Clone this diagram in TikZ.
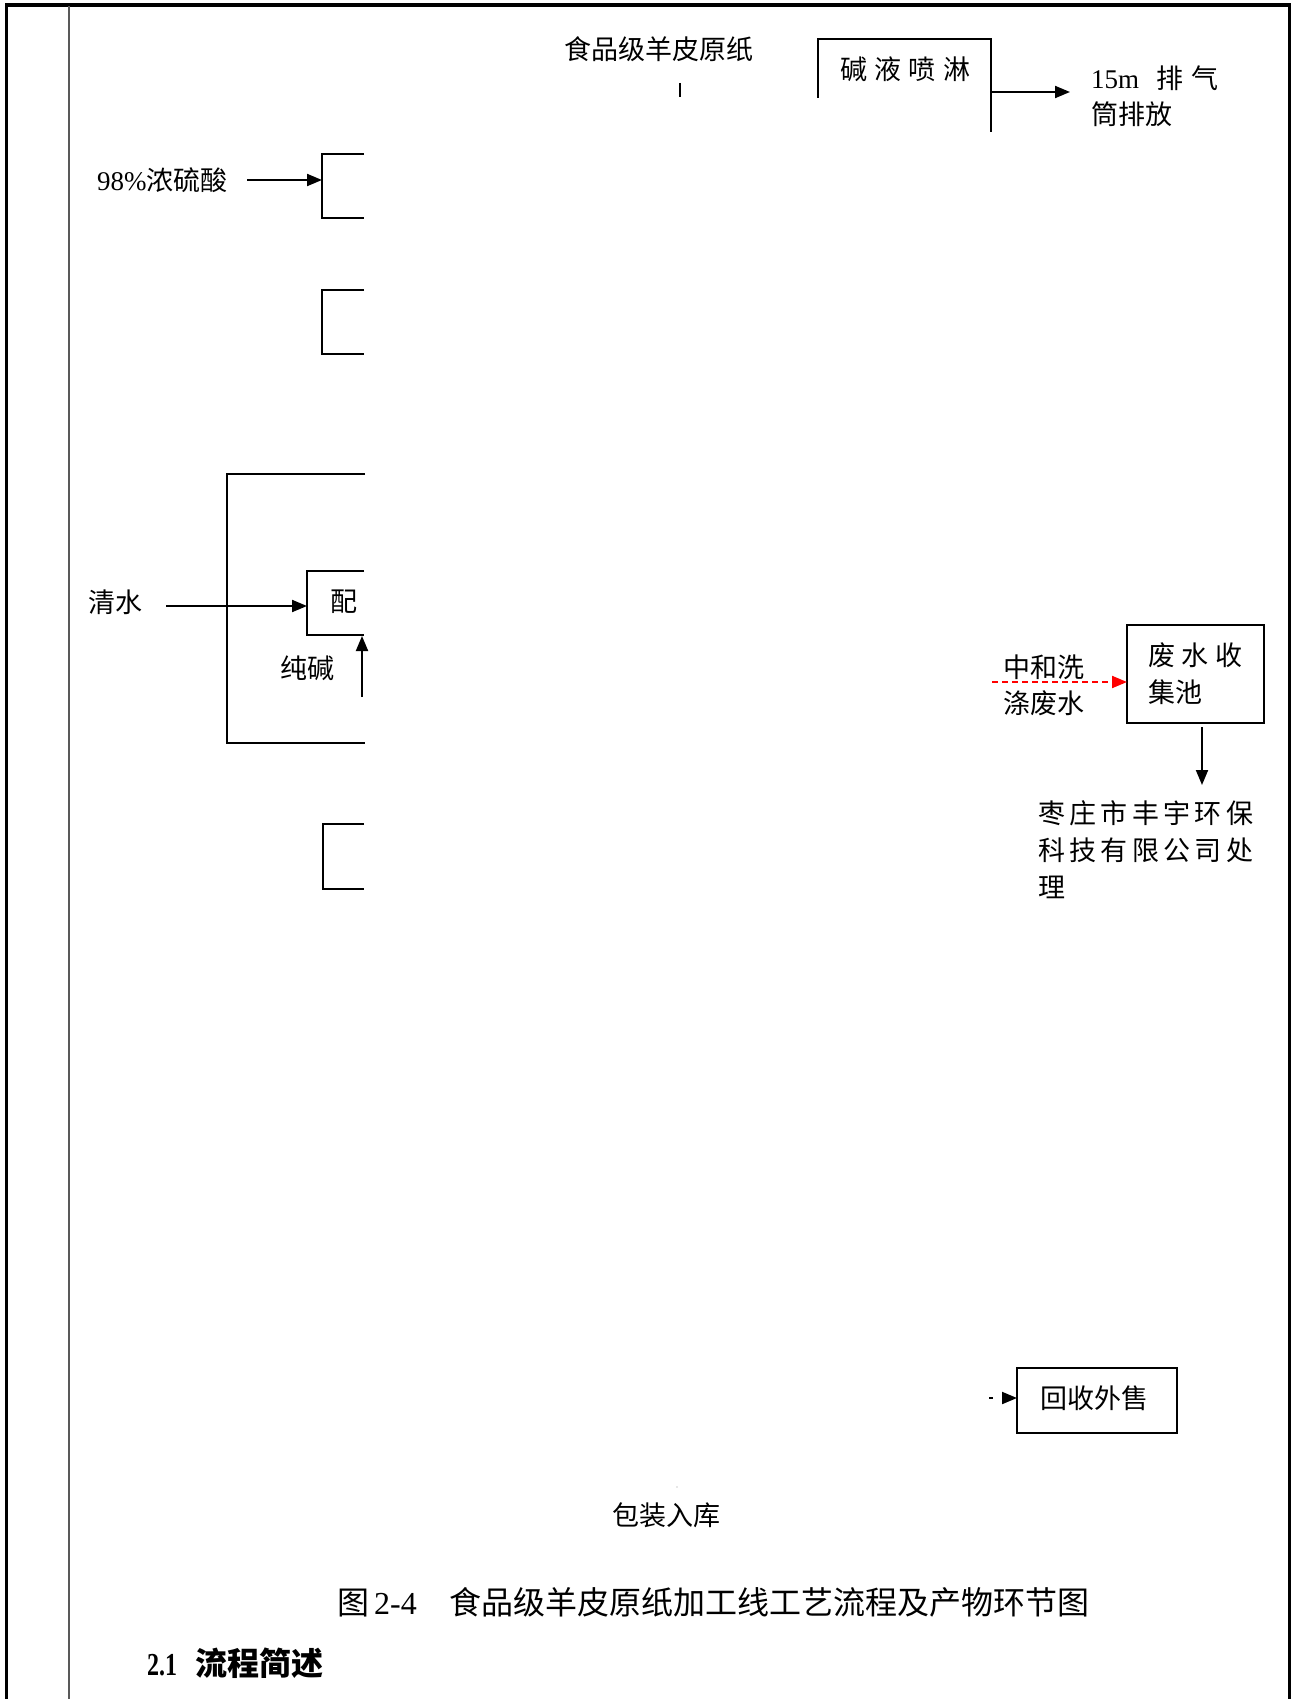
\documentclass[tikz,border=0pt]{standalone}
\usepackage{graphicx}
\usepackage{fontspec}
\setmainfont{Liberation Serif}
\newfontfamily\cjk{Noto Sans CJK SC}
\usetikzlibrary{arrows.meta}
\newcommand\zzsp{\hspace{4.3pt}}
\tikzset{
  frameline/.style={line width=3.5pt, black},
  ln/.style={line width=2pt, black},
  arr/.style={ln, -{Triangle[length=15pt,width=12pt]}},
  redarr/.style={line width=2pt, red, dash pattern=on 6pt off 4pt, -{Triangle[length=15pt,width=12pt]}},
  dasharr/.style={line width=2pt, black, dash pattern=on 4pt off 9pt, -{Triangle[length=15pt,width=12pt]}},
  txt/.style={inner sep=0pt, anchor=west, font=\fontsize{27}{33}\selectfont\cjk},
  captxt/.style={inner sep=0pt, anchor=west, font=\fontsize{32}{38}\selectfont\cjk},
  boxn/.style={draw, line width=2pt, inner sep=0pt},
}
\begin{document}
\begin{tikzpicture}[x=1pt,y=-1pt]
\useasboundingbox (0,0) rectangle (1297,1699);
\fill[white] (0,0) rectangle (1297,1699);
% frame
\draw[frameline] (6.5,1699) -- (6.5,5) -- (1289.5,5) -- (1289.5,1699);
\draw[line width=2pt, black!65] (69,6) -- (69,1699);

% top
\node[txt] (raw) at (564,49) {食品级羊皮原纸};
\coordinate (stubA) at (680,83);
\coordinate (stubB) at (680,97);
\draw[line width=1.5pt] (stubA) -- (stubB);

\draw[ln] (818,98) -- (818,39) -- (991,39) -- (991,132);
\node[txt] (spray) at (840,69) {碱\hspace{7.3pt}液\hspace{7.3pt}喷\hspace{7.3pt}淋};
\coordinate (sprayout) at (991,92);
\coordinate (stackin) at (1070,92);
\draw[arr] (sprayout) -- (stackin);
\node[txt] (stack1) at (1091,78) {{\rmfamily 15m}\hspace{17pt}排\hspace{8pt}气};
\node[txt] (stack2) at (1091,114) {筒排放};

% acid
\node[txt] (acid) at (97,180) {{\rmfamily 98\%}浓硫酸};
\coordinate (acidA) at (247,180);
\coordinate (acidB) at (322,180);
\draw[arr] (acidA) -- (acidB);
\draw[ln] (364,154) -- (322,154) -- (322,218) -- (364,218);
\draw[ln] (364,290) -- (322,290) -- (322,354) -- (364,354);

% water / mixing
\draw[ln] (365,474) -- (227,474) -- (227,743) -- (365,743);
\node[txt] (water) at (88,602) {清水};
\coordinate (waterA) at (166,606);
\coordinate (waterB) at (307,606);
\draw[arr] (waterA) -- (waterB);
\draw[ln] (364,571) -- (307,571) -- (307,635) -- (364,635);
\node[txt] (mix) at (330,602) {配};
\node[txt] (soda) at (280,668) {纯碱};
\coordinate (sodaA) at (362,697);
\coordinate (sodaB) at (362,636);
\draw[arr] (sodaA) -- (sodaB);
\draw[ln] (364,824) -- (323,824) -- (323,889) -- (364,889);

% waste water
\node[boxn, minimum width=137pt, minimum height=98pt] (pool) at (1195.5,674) {};
\node[txt] (pool1) at (1148,655) {废\hspace{6.5pt}水\hspace{6.5pt}收};
\node[txt] (pool2) at (1148,692) {集池};
\node[txt] (ww1) at (1003,667) {中和洗};
\node[txt] (ww2) at (1003,703) {涤废水};
\coordinate (wwA) at (992,682);
\coordinate (wwB) at (1127,682);
\draw[redarr] (wwA) -- (wwB);
\coordinate (poolout) at (1202,727);
\coordinate (compin) at (1202,785);
\draw[arr] (poolout) -- (compin);
\node[txt] (comp1) at (1038,813) {枣\zzsp 庄\zzsp 市\zzsp 丰\zzsp 宇\zzsp 环\zzsp 保};
\node[txt] (comp2) at (1038,850) {科\zzsp 技\zzsp 有\zzsp 限\zzsp 公\zzsp 司\zzsp 处};
\node[txt] (comp3) at (1038,887) {理};

% recycle
\node[boxn, minimum width=160pt, minimum height=65pt] (sell) at (1097,1400.5) {};
\node[txt] (selltxt) at (1040,1398) {回收外售};
\coordinate (sellA) at (989,1398);
\coordinate (sellB) at (1017,1398);
\draw[dasharr] (sellA) -- (sellB);

% packaging
\fill[black!40] (677,1487) circle (0.6pt);
\node[txt] (pack) at (612,1515) {包装入库};

% caption
\node[captxt] (cap) at (337,1602) {图\hspace{5pt}{\rmfamily 2-4}\hspace{33pt}食品级羊皮原纸加工线工艺流程及产物环节图};
\node[captxt, font=\fontsize{32}{38}\selectfont\cjk\bfseries] (sec) at (147,1663) {\scalebox{0.75}[1]{\rmfamily\bfseries 2.1}\hspace{18pt}流程简述};
\end{tikzpicture}
\end{document}
